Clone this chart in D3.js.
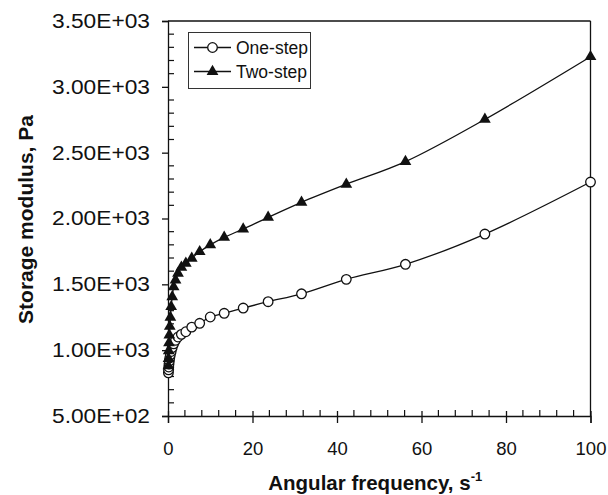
<!DOCTYPE html>
<html>
<head>
<meta charset="utf-8">
<script src="https://cdn.jsdelivr.net/npm/d3@7"></script>
<style>
  html, body { margin: 0; padding: 0; background: #fff; }
  svg { display: block; font-family: "Liberation Sans", Arial, sans-serif; }
</style>
</head>
<body>
<svg id="chart" width="608" height="495"></svg>
<script>
// ---- data ----
const frequency = [0.1, 0.133, 0.178, 0.237, 0.316, 0.422, 0.562, 0.75, 1, 1.33, 1.78, 2.37, 3.16, 4.22, 5.62, 7.5, 10, 13.3, 17.8, 23.7, 31.6, 42.2, 56.2, 75, 100];
const oneStep = [828, 850, 872, 895, 918, 942, 965, 990, 1020, 1048, 1075, 1100, 1120, 1140, 1175, 1204, 1252, 1280, 1320, 1368, 1428, 1538, 1652, 1882, 2277];
const twoStep = [880, 935, 995, 1055, 1115, 1180, 1250, 1330, 1405, 1480, 1533, 1584, 1629, 1660, 1698, 1748, 1800, 1857, 1920, 2009, 2123, 2260, 2432, 2753, 3229];
const seriesNames = ["One-step", "Two-step"];
const xTicks = [0, 20, 40, 60, 80, 100];
const xTickLabels = ["0", "20", "40", "60", "80", "100"];
const yTicks = [500, 1000, 1500, 2000, 2500, 3000, 3500];
const yTickLabels = ["5.00E+02", "1.00E+03", "1.50E+03", "2.00E+03", "2.50E+03", "3.00E+03", "3.50E+03"];
const xTitle = "Angular frequency, s";
const xTitleSup = "-1";
const yTitle = "Storage modulus, Pa";

// ---- layout ----
const svg = d3.select("#chart");
const pL = 168, pR = 590.5, pT = 21, pB = 416;
const x = d3.scaleLinear().domain([0, 100]).range([pL, pR]);
const y = d3.scaleLinear().domain([500, 3500]).range([pB, pT]);
const ink = "#111";

// frame (top and right)
svg.append("line").attr("x1", pL).attr("x2", pR).attr("y1", pT).attr("y2", pT)
  .attr("stroke", ink).attr("stroke-width", 1.3);
svg.append("line").attr("x1", pR).attr("x2", pR).attr("y1", pT).attr("y2", pB)
  .attr("stroke", ink).attr("stroke-width", 1.3);

// y axis
const yAxis = svg.append("g").attr("transform", `translate(${pL},0)`)
  .call(d3.axisLeft(y).tickValues(yTicks).tickSize(6).tickPadding(12)
    .tickFormat((d, i) => yTickLabels[i]));
yAxis.selectAll("path.domain").attr("stroke", ink).attr("stroke-width", 1.3);
yAxis.selectAll(".tick line").attr("stroke", ink).attr("stroke-width", 1.3);
yAxis.selectAll(".tick text").attr("font-size", 20).attr("fill", ink)
  .attr("font-family", "Liberation Sans, Arial, sans-serif")
  .attr("textLength", 98).attr("lengthAdjust", "spacingAndGlyphs");
// y minor ticks (inside)
const yMinor = d3.range(600, 3500, 100).filter(v => v % 500 !== 0);
svg.append("g").selectAll("line").data(yMinor).join("line")
  .attr("x1", pL).attr("x2", pL + 6)
  .attr("y1", d => y(d)).attr("y2", d => y(d))
  .attr("stroke", ink).attr("stroke-width", 1.2);

// x axis
const xAxis = svg.append("g").attr("transform", `translate(0,${pB})`)
  .call(d3.axisBottom(x).tickValues(xTicks).tickSize(7).tickPadding(19)
    .tickFormat((d, i) => xTickLabels[i]));
xAxis.selectAll("path.domain").attr("stroke", ink).attr("stroke-width", 1.3);
xAxis.selectAll(".tick line").attr("stroke", ink).attr("stroke-width", 1.3).attr("y1", -5);
xAxis.selectAll(".tick text").attr("font-size", 18.5).attr("fill", ink)
  .attr("font-family", "Liberation Sans, Arial, sans-serif");
// x minor ticks (inside)
const xMinor = d3.range(4, 100, 4).filter(v => v % 20 !== 0);
svg.append("g").selectAll("line").data(xMinor).join("line")
  .attr("x1", d => x(d)).attr("x2", d => x(d))
  .attr("y1", pB).attr("y2", pB - 6)
  .attr("stroke", ink).attr("stroke-width", 1.2);

// axis titles
const xt = svg.append("text").attr("x", (pL + pR) / 2 - 4).attr("y", 490)
  .attr("text-anchor", "middle").attr("font-weight", "bold").attr("font-size", 20.5).attr("fill", ink);
xt.append("tspan").text(xTitle);
xt.append("tspan").attr("dy", -9).attr("font-size", 13).text(xTitleSup);

svg.append("text")
  .attr("transform", `translate(33,${(pT + pB) / 2 + 1}) rotate(-90)`)
  .attr("text-anchor", "middle").attr("font-weight", "bold").attr("font-size", 21).attr("fill", ink)
  .text(yTitle);

// series
const line = d3.line().x(d => x(d[0])).y(d => y(d[1])).curve(d3.curveCatmullRom.alpha(0.5));
const d1 = frequency.map((f, i) => [f, oneStep[i]]);
const d2 = frequency.map((f, i) => [f, twoStep[i]]);
const tri = d3.symbol().type(d3.symbolTriangle).size(60);

svg.append("path").datum(d1).attr("d", line).attr("fill", "none").attr("stroke", ink).attr("stroke-width", 1.3);
svg.append("g").selectAll("circle").data(d1).join("circle")
  .attr("cx", d => x(d[0])).attr("cy", d => y(d[1])).attr("r", 4.8)
  .attr("fill", "#fff").attr("stroke", ink).attr("stroke-width", 1.3);

svg.append("path").datum(d2).attr("d", line).attr("fill", "none").attr("stroke", ink).attr("stroke-width", 1.3);
svg.append("g").selectAll("path.tri").data(d2).join("path").attr("class", "tri")
  .attr("transform", d => `translate(${x(d[0])},${y(d[1])})`)
  .attr("d", tri).attr("fill", ink);

// legend
const lg = svg.append("g");
lg.append("rect").attr("x", 188.5).attr("y", 32.5).attr("width", 122).attr("height", 56)
  .attr("fill", "#fff").attr("stroke", "#333").attr("stroke-width", 1);
const rows = [47.5, 71.5];
rows.forEach((ry, i) => {
  lg.append("line").attr("x1", 194).attr("x2", 231).attr("y1", ry).attr("y2", ry)
    .attr("stroke", ink).attr("stroke-width", 1.3);
  if (i === 0) {
    lg.append("circle").attr("cx", 212.5).attr("cy", ry).attr("r", 4.8)
      .attr("fill", "#fff").attr("stroke", ink).attr("stroke-width", 1.3);
  } else {
    lg.append("path").attr("transform", `translate(212.5,${ry})`).attr("d", tri).attr("fill", ink);
  }
  lg.append("text").attr("x", 236).attr("y", ry + 6).attr("font-size", 17.5).attr("fill", ink)
    .text(seriesNames[i]);
});
</script>
</body>
</html>
